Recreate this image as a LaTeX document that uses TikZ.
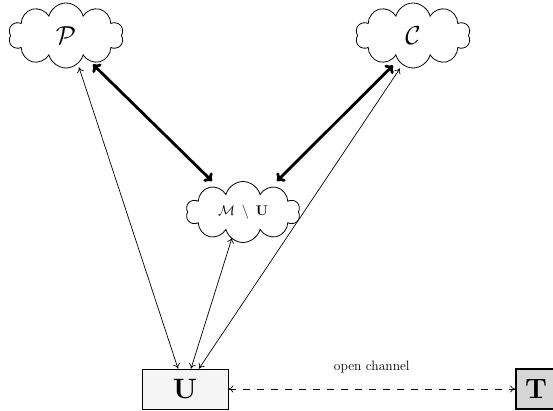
\documentclass[tikz,border=0pt]{standalone}
\usepackage{fix-cm}
\usetikzlibrary{shapes.symbols,arrows.meta,calc}
\begin{document}
\begin{tikzpicture}[x=1pt,y=1pt,
  party/.style={cloud, draw, cloud puffs=10, aspect=1.8,
    minimum width=115pt, minimum height=65pt, inner sep=0pt, line width=0.8pt},
  box/.style={draw, rectangle, minimum width=86pt, minimum height=40pt, inner sep=0pt},
  link/.style={line width=0.7pt, {To[length=5pt,width=7pt]}-{To[length=5pt,width=7pt]}},
  strong/.style={line width=2.8pt, {To[length=7pt,width=12pt]}-{To[length=7pt,width=12pt]}},
]
\useasboundingbox (0,0) rectangle (553,411);

% parties
\node[party] (P) at (66,375.5) {\fontsize{26}{30}\selectfont$\mathcal{P}$};
\node[party] (C) at (413,375.5) {\fontsize{26}{30}\selectfont$\mathcal{C}$};
\node[party, minimum width=114pt, minimum height=61pt] (M) at (243,199)
  {\fontsize{14}{16}\selectfont$\mathcal{M}\;\setminus\;\mathbf{U}$};

% user and token
\node[box, fill=gray!8, line width=0.8pt] (U) at (185,22)
  {\fontsize{28}{30}\selectfont$\mathbf{U}$};
\node[box, fill=gray!32, line width=1.6pt, minimum width=40pt, minimum height=40pt] (T) at (536,22)
  {\fontsize{28}{30}\selectfont$\mathbf{T}$};

% strong links between the clouds
\draw[strong] ($(P.south)+(27,4)$) -- ($(M.north)+(-31,0)$);
\draw[strong] ($(C.south)+(-20,3)$) -- ($(M.north)+(34,0)$);

% links from the user
\draw[link] ($(P.south)+(13,1)$) -- ($(U.north)+(-7,0)$);
\draw[link] ($(M.south)+(-11,5)$) -- ($(U.north)+(6,0)$);
\draw[link] ($(C.south)+(-13,0)$) -- ($(U.north)+(14,0)$);

% open channel
\draw[link, dash pattern=on 7pt off 7pt] (U.east) -- (T.west)
  node[midway, above=12pt] {\fontsize{13.5}{15}\selectfont open channel};
\end{tikzpicture}
\end{document}
